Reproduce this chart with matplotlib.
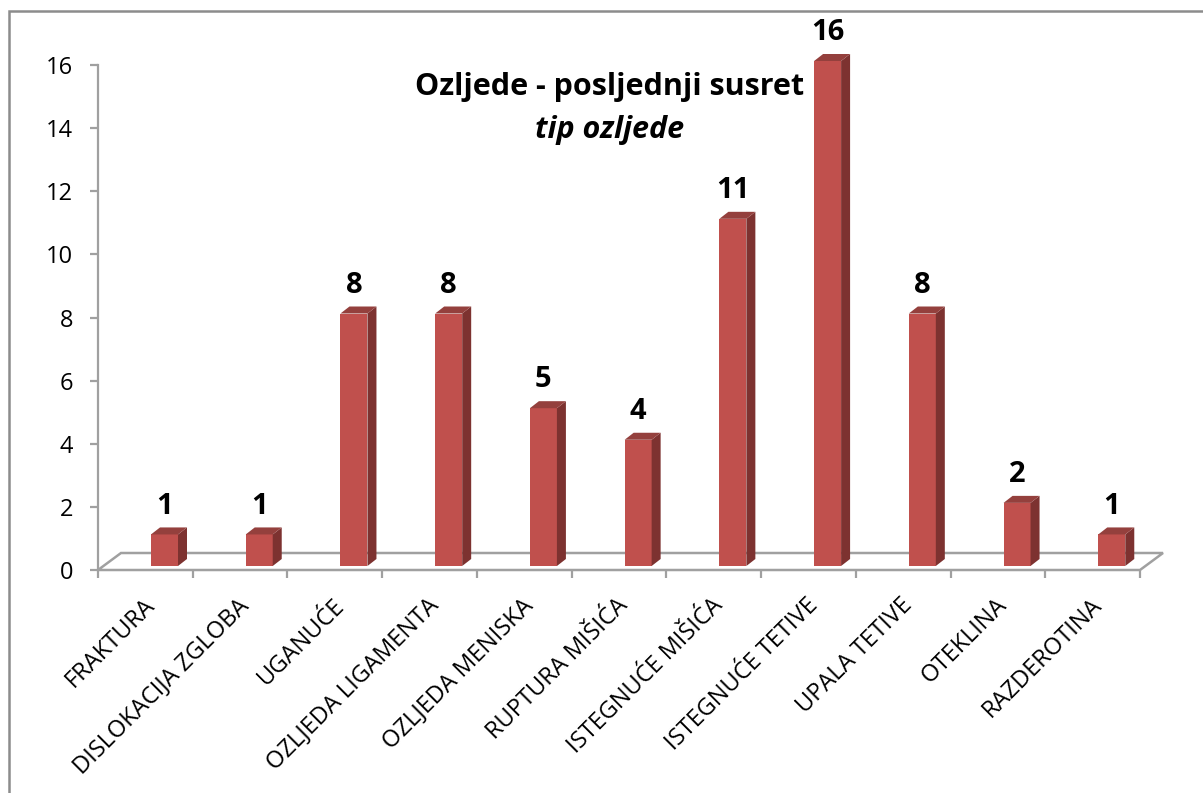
import matplotlib
matplotlib.use("Agg")
import matplotlib.pyplot as plt
from matplotlib.patches import Rectangle, Polygon

# data
categories = ["FRAKTURA", "DISLOKACIJA ZGLOBA", "UGANUĆE", "OZLJEDA LIGAMENTA",
              "OZLJEDA MENISKA", "RUPTURA MIŠIĆA", "ISTEGNUĆE MIŠIĆA",
              "ISTEGNUĆE TETIVE", "UPALA TETIVE", "OTEKLINA", "RAZDEROTINA"]
values = [1, 1, 8, 8, 5, 4, 11, 16, 8, 2, 1]
y_ticks = [0, 2, 4, 6, 8, 10, 12, 14, 16]
title_line1 = "Ozljede - posljednji susret"
title_line2 = "tip ozljede"

W, H = 1203, 793
plt.rcParams['font.family'] = ['Open Sans', 'DejaVu Sans']

fig = plt.figure(figsize=(W / 100, H / 100), dpi=100)
fig.patch.set_facecolor('white')

# axes placed in pixel terms (plot area of the excel chart)
x0, x1, y0, y1 = 98, 1140, 570, 65
ax = fig.add_axes([x0 / W, (H - y0) / H, (x1 - x0) / W, (y0 - y1) / H])
n = len(categories)
ax.set_xlim(0, n)
ax.set_ylim(0, 16)
px_x = (x1 - x0) / n      # pixels per category
px_y = (y0 - y1) / 16     # pixels per unit

grey = '#A0A0A0'
for s in ['top', 'right', 'bottom']:
    ax.spines[s].set_visible(False)
ax.spines['left'].set_color(grey)
ax.spines['left'].set_linewidth(1.6)

ax.set_yticks(y_ticks)
ax.set_yticklabels([str(t) for t in y_ticks], fontsize=17)
ax.set_xticks(range(n + 1))
ax.set_xticklabels([])
ax.tick_params(axis='y', length=6, width=1.6, color=grey, pad=12)
ax.tick_params(axis='x', length=6, width=1.6, color=grey)

# floor (3d look)
fdx, fdy = 23 / px_x, 17 / px_y
floor = Polygon([(0, 0), (n, 0), (n + fdx, fdy), (fdx, fdy)], closed=True,
                facecolor='white', edgecolor=grey, lw=1.8, clip_on=False, zorder=1)
ax.add_patch(floor)

# bars
front_c, top_c, side_c = '#C0504D', '#94403D', '#7D3230'
off = 53 / px_x
bw = 27 / px_x
yb = 4 / px_y
bdx, bdy = 9 / px_x, 7 / px_y
for i, v in enumerate(values):
    xl = i + off
    xr = xl + bw
    yt = v + yb
    ax.add_patch(Rectangle((xl, yb), bw, v, facecolor=front_c, edgecolor='none',
                           clip_on=False, zorder=3))
    ax.add_patch(Polygon([(xr, yb), (xr + bdx, yb + bdy), (xr + bdx, yt + bdy), (xr, yt)],
                         closed=True, facecolor=side_c, edgecolor='none',
                         clip_on=False, zorder=3))
    ax.add_patch(Polygon([(xl, yt), (xr, yt), (xr + bdx, yt + bdy), (xl + bdx, yt + bdy)],
                         closed=True, facecolor=top_c, edgecolor='none',
                         clip_on=False, zorder=3))
    ax.annotate(str(v), (xl + bw / 2, yt), xytext=(0, 15), textcoords='offset points',
                ha='center', va='baseline', fontsize=21, fontweight='bold',
                annotation_clip=False, zorder=4)

# category labels, rotated
for i, c in enumerate(categories):
    ax.annotate(c, (i + 0.5, 0), xytext=(-2, -17), textcoords='offset points',
                ha='right', va='top', rotation=45, rotation_mode='anchor',
                fontsize=17, annotation_clip=False)

# title
fig.text(610 / W, 1 - 95 / H, title_line1, ha='center', va='baseline',
         fontsize=22, fontweight='bold')
fig.text(610 / W, 1 - 138 / H, title_line2, ha='center', va='baseline',
         fontsize=22, fontweight='bold', style='italic')

# chart border (cropped on right / bottom)
bx = Rectangle((9 / W, -0.05), 1.1, 1 - 11 / H + 0.05, transform=fig.transFigure,
               fill=False, edgecolor='#8C8C8C', lw=1.8)
fig.patches.append(bx)

fig.savefig('out.png', dpi=100)
